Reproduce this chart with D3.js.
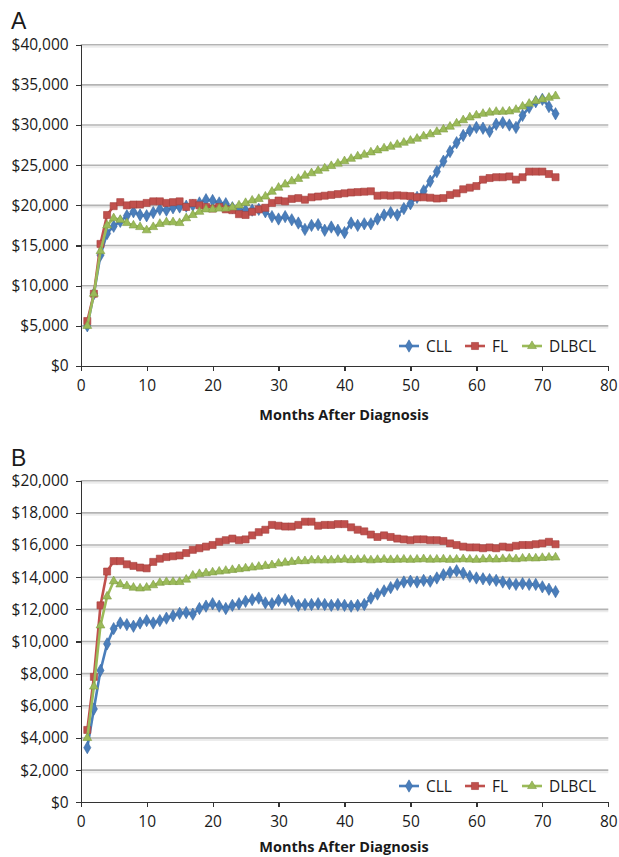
<!DOCTYPE html>
<html lang="en">
<head>
<meta charset="UTF-8">
<title>Costs After Diagnosis</title>
<script src="https://d3js.org/d3.v7.min.js"></script>
<style>
    body { margin: 0; background: #fff; }
    svg text { font-family: "Open Sans", sans-serif; fill: #1a1a1a; }
    .grid line { stroke: #b3b3b3; stroke-width: 1.6; }
    .grid .shadow { stroke: #ececec; stroke-width: 2; }
    .axis path, .axis line { stroke: #333; stroke-width: 1.2; shape-rendering: crispEdges; }
    .axis text { font-size: 15.5px; }
    .panel-label { font-family: "Liberation Sans", Arial, sans-serif !important; font-size: 23px; }
    .axis-title { font-size: 14.5px; font-weight: bold; }
    .legend text { font-size: 15.5px; }
</style>
</head>
<body>
<svg id="chart" width="619" height="857"></svg>
<script>
// months after diagnosis (x)
const months = d3.range(1, 73);

const seriesNames = ["CLL", "FL", "DLBCL"];

// panel A
const cllA = [5000, 9000, 13800, 16500, 17400, 18000, 18700, 19200, 18800, 18700,
    19100, 19500, 19400, 19700, 19800, 19900, 20000, 20300, 20700, 20600,
    20300, 20200, 19700, 19500, 19400, 19400, 19500, 19200, 18600, 18300,
    18600, 18200, 17800, 17000, 17500, 17600, 16900, 17300, 16900, 16600,
    17800, 17500, 17700, 17700, 18300, 18800, 19100, 18800, 19600, 20200,
    21000, 21800, 23000, 24200, 25500, 26700, 27800, 28700, 29300, 29700,
    29600, 29200, 30100, 30300, 30000, 29700, 31200, 32200, 32900, 33200,
    32300, 31400];
const flA = [5600, 9000, 15200, 18800, 19900, 20400, 20000, 20100, 20100, 20300,
    20500, 20500, 20300, 20400, 20500, 19800, 20300, 20000, 19800, 19600,
    19800, 19500, 19400, 18900, 18800, 19200, 19500, 19700, 20300, 20600,
    20500, 20800, 20900, 20700, 21000, 21100, 21200, 21300, 21400, 21500,
    21600, 21650, 21700, 21750, 21200, 21250, 21200, 21250, 21200, 21150,
    21000, 21000, 20950, 20850, 20900, 21300, 21500, 22000, 22200, 22400,
    23200, 23400, 23500, 23500, 23600, 23200, 23500, 24200, 24200, 24200,
    23900, 23500];
const dlbclA = [5000, 9000, 14300, 17500, 18400, 18200, 17800, 17500, 17300, 16900,
    17300, 17700, 17900, 17900, 17800, 18400, 18800, 19200, 19500, 19500,
    19600, 19600, 19750, 20000, 20300, 20600, 20800, 21100, 21700, 22200,
    22600, 23000, 23300, 23700, 24000, 24300, 24600, 24900, 25200, 25500,
    25800, 26100, 26300, 26600, 26850, 27100, 27300, 27550, 27800, 28050,
    28300, 28600, 28850, 29150, 29450, 29800, 30200, 30600, 30950, 31200,
    31400, 31550, 31650, 31650, 31700, 31900, 32300, 32650, 33000, 33200,
    33400, 33600];

// panel B
const cllB = [3400, 5800, 8200, 9850, 10800, 11150, 11050, 10950, 11150, 11300,
    11150, 11300, 11450, 11600, 11750, 11800, 11700, 12050, 12200, 12350,
    12200, 12050, 12250, 12350, 12500, 12600, 12700, 12400, 12350, 12550,
    12600, 12500, 12250, 12300, 12300, 12350, 12300, 12250, 12300, 12250,
    12200, 12250, 12300, 12700, 12950, 13150, 13350, 13550, 13700, 13750,
    13700, 13800, 13750, 13950, 14150, 14300, 14400, 14250, 14050, 13950,
    13900, 13850, 13800, 13700, 13600, 13550, 13600, 13550, 13550, 13400,
    13250, 13100];
const flB = [4500, 7800, 12250, 14350, 15000, 15000, 14800, 14700, 14600, 14550,
    14950, 15150, 15250, 15300, 15350, 15500, 15700, 15800, 15900, 16000,
    16200, 16300, 16400, 16300, 16350, 16600, 16800, 16950, 17250, 17200,
    17150, 17150, 17250, 17450, 17450, 17200, 17250, 17250, 17300, 17300,
    17100, 16950, 16850, 16650, 16500, 16600, 16500, 16400, 16350, 16300,
    16350, 16350, 16300, 16300, 16250, 16100, 16000, 15900, 15850, 15850,
    15800, 15850, 15800, 15900, 15850, 15950, 16000, 16000, 16050, 16100,
    16200, 16050];
const dlbclB = [4000, 7200, 11000, 12800, 13750, 13550, 13450, 13350, 13300, 13350,
    13500, 13650, 13700, 13700, 13700, 13850, 14100, 14200, 14250, 14300,
    14350, 14400, 14450, 14500, 14550, 14600, 14650, 14700, 14750, 14850,
    14900, 14950, 15000, 15000, 15050, 15050, 15050, 15050, 15080, 15100,
    15060, 15080, 15100, 15050, 15080, 15100, 15070, 15090, 15100, 15080,
    15100, 15120, 15090, 15100, 15110, 15080, 15100, 15120, 15100, 15080,
    15110, 15120, 15100, 15130, 15150, 15120, 15160, 15180, 15170, 15200,
    15220, 15230];

const xTicks = [0, 10, 20, 30, 40, 50, 60, 70, 80];
const yTicksA = [0, 5000, 10000, 15000, 20000, 25000, 30000, 35000, 40000];
const yTicksB = [0, 2000, 4000, 6000, 8000, 10000, 12000, 14000, 16000, 18000, 20000];

const colors = { CLL: "#4a7ebb", FL: "#c0504d", DLBCL: "#9bbb59" };
const strokes = { CLL: "#3a6aa3", FL: "#a4403d", DLBCL: "#7f9c45" };
const shapes = { CLL: d3.symbolDiamond, FL: d3.symbolSquare, DLBCL: d3.symbolTriangle };
const sizes = { CLL: 44, FL: 50, DLBCL: 34 };

const svg = d3.select("#chart");

function drawPanel(opt) {
    const x = d3.scaleLinear().domain([0, 80]).range([80.7, 608.3]);
    const y = d3.scaleLinear().domain([0, opt.yMax]).range([opt.bottom, opt.top]);
    const g = svg.append("g");

    g.append("text").attr("class", "panel-label")
        .attr("x", 11).attr("y", opt.labelY).text(opt.label);

    // gridlines
    const grid = g.append("g").attr("class", "grid");
    grid.selectAll("line.shadow").data(opt.yTicks.slice(1)).join("line")
        .attr("class", "shadow")
        .attr("x1", x(0)).attr("x2", x(80))
        .attr("y1", d => y(d) + 2).attr("y2", d => y(d) + 2);
    grid.selectAll("line.main").data(opt.yTicks.slice(1)).join("line")
        .attr("class", "main")
        .attr("x1", x(0)).attr("x2", x(80))
        .attr("y1", d => y(d)).attr("y2", d => y(d));

    // axes
    g.append("g").attr("class", "axis")
        .attr("transform", `translate(${x(0)},0)`)
        .call(d3.axisLeft(y).tickValues(opt.yTicks).tickSize(5).tickSizeOuter(0)
            .tickFormat(d3.format("$,.0f")))
        .call(a => a.selectAll("text").attr("x", -12));
    g.append("g").attr("class", "axis")
        .attr("transform", `translate(0,${opt.bottom})`)
        .call(d3.axisBottom(x).tickValues(xTicks).tickSize(5).tickSizeOuter(0))
        .call(a => a.selectAll("text").attr("y", 14));

    g.append("text").attr("class", "axis-title")
        .attr("x", 344).attr("y", opt.titleY)
        .attr("text-anchor", "middle").text("Months After Diagnosis");

    // series
    const line = d3.line().x((d, i) => x(months[i])).y(d => y(d));
    opt.series.forEach((vals, si) => {
        const name = seriesNames[si];
        g.append("path").datum(vals)
            .attr("fill", "none").attr("stroke", colors[name])
            .attr("stroke-width", 2.6).attr("stroke-linejoin", "round")
            .attr("d", line);
        g.append("g").selectAll("path").data(vals).join("path")
            .attr("transform", (d, i) => `translate(${x(months[i])},${y(d)})`)
            .attr("d", d3.symbol().type(shapes[name]).size(sizes[name]))
            .attr("fill", colors[name]).attr("stroke", strokes[name])
            .attr("stroke-width", 0.6);
    });

    // legend
    const lg = g.append("g").attr("class", "legend")
        .attr("transform", `translate(0,${opt.legendY})`);
    const legendX = [399, 465, 522];
    seriesNames.forEach((name, i) => {
        const lx = legendX[i];
        lg.append("line").attr("x1", lx).attr("x2", lx + 20)
            .attr("y1", 0).attr("y2", 0)
            .attr("stroke", colors[name]).attr("stroke-width", 2.6);
        lg.append("path").attr("transform", `translate(${lx + 10},0)`)
            .attr("d", d3.symbol().type(shapes[name]).size(sizes[name]))
            .attr("fill", colors[name]).attr("stroke", strokes[name]).attr("stroke-width", 0.6);
        lg.append("text").attr("x", lx + 27).attr("y", 5.5).text(name);
    });
}

drawPanel({
    label: "A", labelY: 29, top: 44.7, bottom: 366, yMax: 40000, yTicks: yTicksA,
    titleY: 420, legendY: 346, series: [cllA, flA, dlbclA]
});
drawPanel({
    label: "B", labelY: 466, top: 480.7, bottom: 802.3, yMax: 20000, yTicks: yTicksB,
    titleY: 852, legendY: 786, series: [cllB, flB, dlbclB]
});
</script>
</body>
</html>
